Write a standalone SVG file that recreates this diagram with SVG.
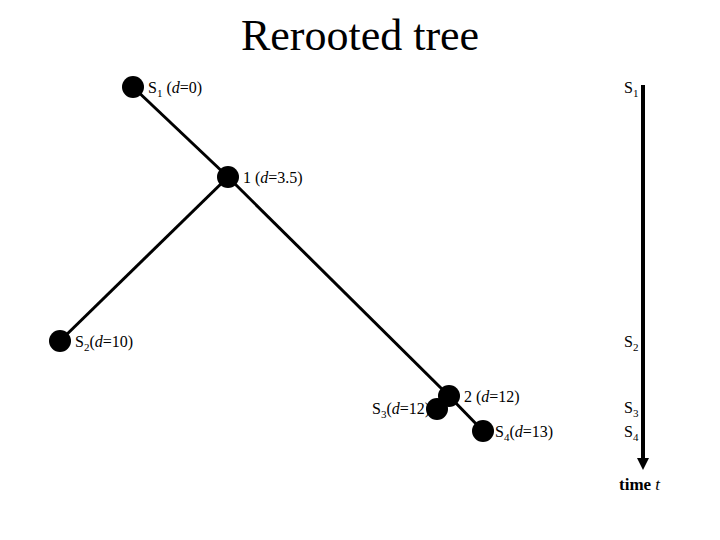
<svg xmlns="http://www.w3.org/2000/svg" width="720" height="540" viewBox="0 0 720 540">
<style>
text{font-family:"Liberation Serif",serif;font-size:16px;fill:#000}
.n{fill:#000}
.e{stroke:#000;stroke-width:3}
</style>
<defs><marker id="a" markerWidth="8" markerHeight="10" refX="4" refY="9" orient="auto" markerUnits="userSpaceOnUse" viewBox="0 0 8 10"><path d="M0,0 L8,0 L4,10 Z" transform="rotate(0)"/></marker></defs>
<rect width="720" height="540" fill="#fff"/>
<text x="360" y="50" text-anchor="middle" style="font-size:44px">Rerooted tree</text>
<g id="connectors">
<line class="e" x1="133" y1="87" x2="228" y2="177"/>
<line class="e" x1="228" y1="177" x2="60" y2="341"/>
<line class="e" x1="228" y1="177" x2="449" y2="396"/>
<line class="e" x1="449" y1="396" x2="437" y2="409"/>
<line class="e" x1="449" y1="396" x2="483" y2="431"/>
<line x1="643" y1="85" x2="643" y2="462" stroke="#000" stroke-width="4"/>
<path d="M637,458 L649,458 L643,470 Z"/>
</g>
<g id="S1"><circle class="n" cx="133" cy="87" r="11"/><text x="148" y="93">S<tspan font-size="11" dy="4">1</tspan><tspan dy="-4"> (<tspan font-style="italic">d</tspan>=0)</tspan></text></g>
<g id="n1"><circle class="n" cx="228" cy="177" r="11"/><text x="243" y="183">1 (<tspan font-style="italic">d</tspan>=3.5)</text></g>
<g id="S2"><circle class="n" cx="60" cy="341" r="11"/><text x="75" y="347">S<tspan font-size="11" dy="4">2</tspan><tspan dy="-4">(<tspan font-style="italic">d</tspan>=10)</tspan></text></g>
<g id="n2"><circle class="n" cx="449" cy="396" r="11"/><text x="464" y="402">2 (<tspan font-style="italic">d</tspan>=12)</text></g>
<g id="S3"><circle class="n" cx="437" cy="409" r="11"/><text x="372" y="414">S<tspan font-size="11" dy="4">3</tspan><tspan dy="-4">(<tspan font-style="italic">d</tspan>=12)</tspan></text></g>
<g id="S4"><circle class="n" cx="483" cy="431" r="11"/><text x="495" y="437">S<tspan font-size="11" dy="4">4</tspan><tspan dy="-4">(<tspan font-style="italic">d</tspan>=13)</tspan></text></g>
<g id="axis">
<text x="624" y="93">S<tspan font-size="11" dy="4">1</tspan></text>
<text x="624" y="347">S<tspan font-size="11" dy="4">2</tspan></text>
<text x="624" y="413">S<tspan font-size="11" dy="4">3</tspan></text>
<text x="624" y="437">S<tspan font-size="11" dy="4">4</tspan></text>
<text x="619" y="490" font-weight="bold" style="font-size:17px">time <tspan font-style="italic" font-weight="normal">t</tspan></text>
</g>
</svg>
